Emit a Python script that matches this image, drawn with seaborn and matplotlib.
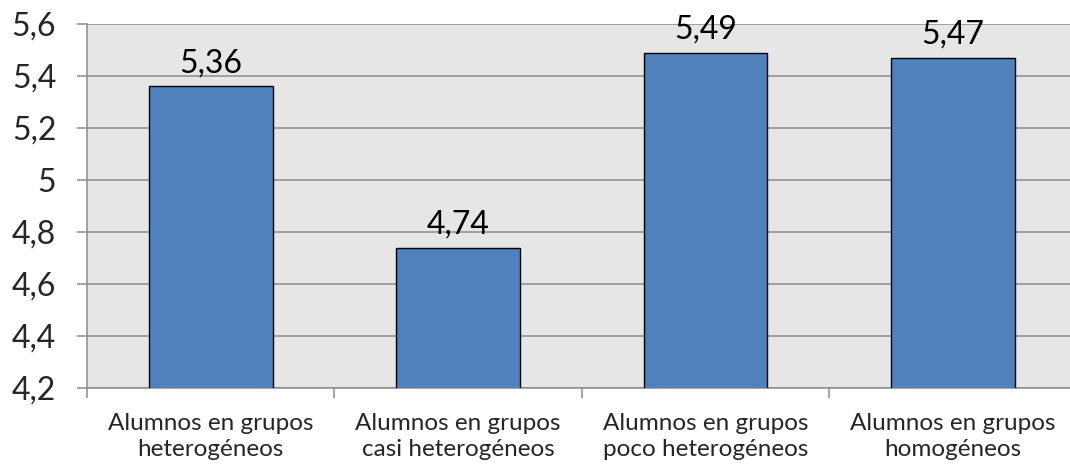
import matplotlib
matplotlib.use("Agg")
import matplotlib.pyplot as plt
import seaborn as sns
import pandas as pd
from matplotlib.ticker import FuncFormatter, MultipleLocator

categories = [
    "Alumnos en grupos\nheterogéneos",
    "Alumnos en grupos\ncasi heterogéneos",
    "Alumnos en grupos\npoco heterogéneos",
    "Alumnos en grupos\nhomogéneos",
]
values = [5.36, 4.74, 5.49, 5.47]

df = pd.DataFrame({"grupo": categories, "valor": values})

sns.set_style("white")
plt.rcParams["font.family"] = ["Lato", "DejaVu Sans"]

fig = plt.figure(figsize=(10.7, 4.73), dpi=100)
ax = fig.add_axes([0.0813, 0.1797, 0.925, 0.7696])
ax.set_facecolor("#e6e6e6")

sns.barplot(data=df, x="grupo", y="valor", color="#4f81bd", width=0.5,
            edgecolor="black", linewidth=1.0, saturation=1, ax=ax, zorder=3)

ax.set_ylim(4.2, 5.6)
ax.yaxis.set_major_locator(MultipleLocator(0.2))

def fmt(v, _):
    s = f"{v:.1f}"
    if s.endswith(".0"):
        s = s[:-2]
    return s.replace(".", ",")

ax.yaxis.set_major_formatter(FuncFormatter(fmt))
ax.grid(axis="y", color="#8c8c8c", linewidth=1.1, zorder=0)
ax.set_axisbelow(True)

for side in ["top", "right"]:
    ax.spines[side].set_visible(False)
for side in ["left", "bottom"]:
    ax.spines[side].set_color("#8c8c8c")
    ax.spines[side].set_linewidth(1.1)

ax.tick_params(axis="y", which="major", length=7.2, width=1.1, color="#8c8c8c",
               labelsize=23, pad=15, left=True)
ax.tick_params(axis="x", which="major", length=0, labelsize=17.5, pad=18)
for lbl in ax.get_xticklabels():
    lbl.set_linespacing(1.3)

# tick marks between categories on the x axis
ax.set_xticks([i - 0.5 for i in range(len(categories) + 1)], minor=True)
ax.tick_params(axis="x", which="minor", length=7.2, width=1.1, color="#8c8c8c", bottom=True)
ax.set_xlim(-0.5, len(categories) - 0.5)

ax.set_xlabel("")
ax.set_ylabel("")

for i, v in enumerate(values):
    ax.annotate(f"{v:.2f}".replace(".", ","), xy=(i, v), xytext=(0, 6),
                textcoords="offset points", ha="center", va="bottom",
                fontsize=23, color="black", zorder=4, annotation_clip=False)

fig.savefig("out.png", dpi=100)
